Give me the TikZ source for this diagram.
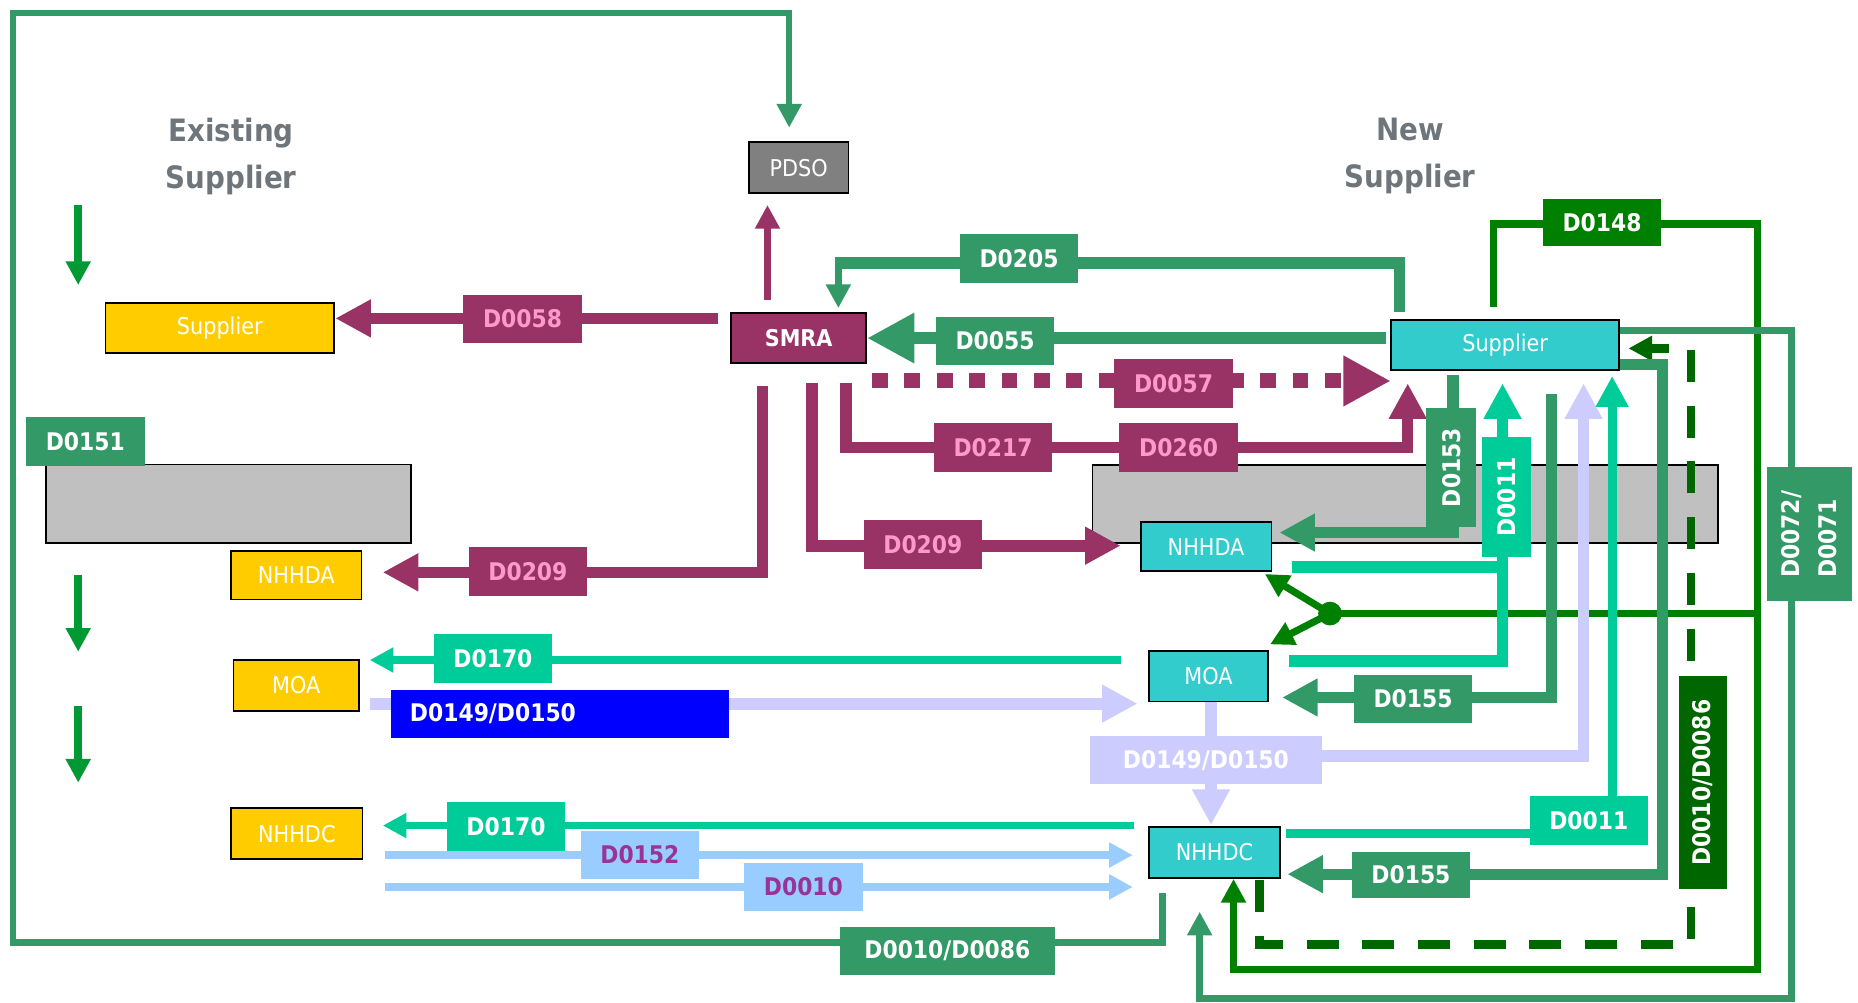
\documentclass[tikz,border=0pt]{standalone}
\usepackage{fontspec}
\setmainfont{DejaVu Sans Condensed}
\usetikzlibrary{arrows.meta}
\pgfdeclarelayer{back}
\pgfdeclarelayer{lines}
\pgfsetlayers{back,lines,main}
\definecolor{mag}{HTML}{993366}
\definecolor{pinktxt}{HTML}{FF99CC}
\definecolor{sg}{HTML}{339966}
\definecolor{tealc}{HTML}{00CC99}
\definecolor{cyn}{HTML}{33CCCC}
\definecolor{yel}{HTML}{FFCC00}
\definecolor{grb}{HTML}{C0C0C0}
\definecolor{lav}{HTML}{CCCCFF}
\definecolor{lbl}{HTML}{99CCFF}
\definecolor{purp}{HTML}{993399}
\definecolor{dg}{HTML}{008000}
\definecolor{ddg}{HTML}{006600}
\definecolor{lg}{HTML}{009933}
\definecolor{ttlc}{HTML}{6E767C}
\definecolor{pdsoc}{HTML}{808080}
\newcommand\myNodeFont{\fontsize{19.5}{23}\selectfont}
\newcommand\myLabFont{\fontsize{20.5}{24}\selectfont\bfseries}
\newcommand\myTitleFont{\fontsize{26}{39.4}\selectfont\bfseries}
\begin{document}
\begin{tikzpicture}[x=1pt,y=-1pt,
  box/.style={draw=black, line width=1.5pt, inner sep=0pt, text=white, font=\myNodeFont},
  ybox/.style={box, fill=yel},
  cbox/.style={box, fill=cyn},
  lab/.style={inner sep=0pt, font=\myLabFont, text=white, minimum width=100pt, minimum height=41pt},
  maglab/.style={lab, fill=mag, text=pinktxt},
  sglab/.style={lab, fill=sg},
  teallab/.style={lab, fill=tealc},
  lblab/.style={lab, fill=lbl, text=purp},
  ttl/.style={font=\myTitleFont, text=ttlc, align=center, inner sep=0pt},
  bar/.style={draw=black, line width=1.5pt, fill=grb, inner sep=0pt},
  H20/.style={-{Triangle[length=20pt,width=20pt]}},
  H26/.style={-{Triangle[length=26pt,width=26pt]}},
  H30/.style={-{Triangle[length=30pt,width=30pt]}},
  H40/.style={-{Triangle[length=40pt,width=40pt]}},
]
\useasboundingbox (0,0) rectangle (1568,846.4);
\begin{pgfonlayer}{back}
\fill[white] (0,0) rectangle (1568,846.4);
\node[bar, minimum width=308pt, minimum height=66pt] (barL) at (193,425) {};
\node[bar, minimum width=528pt, minimum height=65.5pt] (barR) at (1186,425.2) {};
\end{pgfonlayer}

% titles
\node[ttl, anchor=north] (tEx) at (195,99.5) {Existing\\Supplier};
\node[ttl, anchor=north] (tNew) at (1190,99.5) {New\\Supplier};

% main nodes
\node[ybox, minimum width=193pt, minimum height=42pt] (ysup) at (185.5,277) {Supplier};
\node[box, fill=pdsoc, minimum width=84pt, minimum height=43pt] (pdso) at (674,141.5) {PDSO};
\node[box, fill=mag, minimum width=114pt, minimum height=42.7pt, font=\myNodeFont\bfseries] (smra) at (674,285.3) {SMRA};
\node[cbox, minimum width=192.5pt, minimum height=42pt] (nsup) at (1270.2,291) {Supplier};
\node[ybox, minimum width=110pt, minimum height=41pt] (yNHHDA) at (250,485.5) {NHHDA};
\node[ybox, minimum width=106pt, minimum height=43pt] (yMOA) at (250,578.5) {MOA};
\node[ybox, minimum width=111pt, minimum height=43pt] (yNHHDC) at (250.5,703.5) {NHHDC};
\node[cbox, minimum width=110.4pt, minimum height=41.5pt] (cNHHDA) at (1017.8,461.3) {NHHDA};
\node[cbox, minimum width=100.4pt, minimum height=42.7pt] (cMOA) at (1019.8,570.7) {MOA};
\node[cbox, minimum width=110.3pt, minimum height=43.4pt] (cNHHDC) at (1024.9,719.3) {NHHDC};
\node[circle, fill=dg, inner sep=0pt, minimum size=20pt] (jn) at (1122.4,517.8) {};

% free ends
\coordinate (fr0) at (981,754);
\coordinate (frT) at (666,107.7);
\coordinate (smraUp) at (647.7,253);
\coordinate (pdsoIn) at (647.7,173);
\coordinate (d58s) at (606,268.7);
\coordinate (d58e) at (283,268.7);
\coordinate (d209as) at (643.5,326);
\coordinate (d209ae) at (323,483);
\coordinate (d209bs) at (685,323.5);
\coordinate (d209be) at (945.7,460.5);
\coordinate (d217s) at (714,323.5);
\coordinate (d217e) at (1188,323.5);
\coordinate (d57s) at (736,321.5);
\coordinate (d57e) at (1173.7,321.5);
\coordinate (d205s) at (1181,263);
\coordinate (d205e) at (707.5,260);
\coordinate (d148s) at (1260.5,258.8);
\coordinate (d148e) at (1041,741.7);
\coordinate (d72s) at (1367,278.8);
\coordinate (d72e) at (1012.4,769.4);
\coordinate (dds) at (1063,742.6);
\coordinate (dde) at (1374.2,294);
\coordinate (d153s) at (1226.4,316.5);
\coordinate (d153e) at (1079.7,449.4);
\coordinate (d11aA) at (1090.4,478.2);
\coordinate (d11aB) at (1087.7,557.7);
\coordinate (d11ae) at (1268,323.5);
\coordinate (d155as) at (1309.3,332.5);
\coordinate (d155ae) at (1082,588.6);
\coordinate (lavA) at (1022,592);
\coordinate (lavAe) at (1022,696.2);
\coordinate (lavB) at (1022,638);
\coordinate (lavBe) at (1336.4,323.5);
\coordinate (d11bs) at (1085,703.3);
\coordinate (d11be) at (1360.5,317.3);
\coordinate (d155bs) at (1360.6,307.6);
\coordinate (d155be) at (1086.4,737.7);
\coordinate (jnA) at (1067.4,484.4);
\coordinate (jnB) at (1071.8,543.8);
\coordinate (jnR) at (1483,517.8);
\coordinate (t170as) at (946,557);
\coordinate (t170ae) at (312,557);
\coordinate (t170bs) at (957,696.7);
\coordinate (t170be) at (323,696.7);
\coordinate (lmS) at (312,593.8);
\coordinate (lmE) at (960,593.8);
\coordinate (d152s) at (325,721.6);
\coordinate (d152e) at (956,721.6);
\coordinate (d10s) at (325,748.5);
\coordinate (d10e) at (956,748.5);
\coordinate (ga1) at (66,173);
\coordinate (gb1) at (66,240.5);
\coordinate (ga2) at (66,485);
\coordinate (gb2) at (66,550);
\coordinate (ga3) at (66,596);
\coordinate (gb3) at (66,660.5);

\begin{pgfonlayer}{lines}
% outer frame
\draw[sg, line width=5.5pt, H20] (fr0) -- (981,795.5) -- (11,795.5) -- (11,11) -- (666,11) -- (frT);
% SMRA -> PDSO
\draw[mag, line width=6.7pt, H20] (smraUp) -- (pdsoIn);
% D0058
\draw[mag, line width=9.4pt, H30] (d58s) -- (d58e);
% D0209 left
\draw[mag, line width=9.5pt, H30] (d209as) -- (643.5,483) -- (d209ae);
% D0209 right
\draw[mag, line width=10pt, H30] (d209bs) -- (685,460.5) -- (d209be);
% D0217 / D0260
\draw[mag, line width=9.5pt, H30] (d217s) -- (714,377.4) -- (1188,377.4) -- (d217e);
% D0057 dotted
\draw[mag, line width=12.7pt, dash pattern=on 13.3pt off 14pt, H40] (d57s) -- (d57e);
% D0055
\draw[sg, line width=10pt, H40] (1170,285.3) -- (smra.east);
% D0205
\draw[sg, line width=10pt] (d205s) -- (1181,222) -- (704.7,222);
\draw[sg, line width=5.7pt, H20] (707.5,219) -- (d205e);
% D0148
\draw[dg, line width=6pt, H20] (d148s) -- (1260.5,189) -- (1483,189) -- (1483,818) -- (1041,818) -- (d148e);
\draw[dg, line width=6pt] (jnR) -- (jn.center);
\draw[dg, line width=6pt, H20] (jn.center) -- (jnA);
\draw[dg, line width=6pt, H20] (jn.center) -- (jnB);
% D0072/D0071
\draw[sg, line width=6pt, H20] (d72s) -- (1512,278.8) -- (1512,843) -- (1012.4,843) -- (d72e);
% D0010/D0086 dashed
\draw[ddg, line width=7pt, dash pattern=on 27pt off 20pt, H20] (dds) -- (1063,797) -- (1427,797) -- (1427,294) -- (dde);
% D0153
\draw[sg, line width=10pt, H30] (d153s) -- (1226.4,449.4) -- (d153e);
% D0011 upper
\draw[tealc, line width=10pt] (d11aA) -- (1268,478.2);
\draw[tealc, line width=10pt, H30] (d11aB) -- (1268,557.7) -- (d11ae);
% D0155 upper
\draw[sg, line width=9.5pt, H30] (d155as) -- (1309.3,588.6) -- (d155ae);
% D0149/D0150 lavender
\draw[lav, line width=9.5pt, H30] (lavA) -- (lavAe);
\draw[lav, line width=9.5pt, H30] (lavB) -- (1336.4,638) -- (lavBe);
% D0011 lower
\draw[tealc, line width=7.5pt, H26] (d11bs) -- (1360.5,703.3) -- (d11be);
% D0155 lower
\draw[sg, line width=9.5pt, H30] (d155bs) -- (1402.7,307.6) -- (1402.7,737.7) -- (d155be);
% left side
\draw[tealc, line width=7pt, H20] (t170as) -- (t170ae);
\draw[tealc, line width=6pt, H20] (t170bs) -- (t170be);
\draw[lav, line width=10pt, H30] (lmS) -- (lmE);
\draw[lbl, line width=6.7pt, H20] (d152s) -- (d152e);
\draw[lbl, line width=6.7pt, H20] (d10s) -- (d10e);
% small green arrows
\draw[lg, line width=6.7pt, H20] (ga1) -- (gb1);
\draw[lg, line width=6.7pt, H20] (ga2) -- (gb2);
\draw[lg, line width=6.7pt, H20] (ga3) -- (gb3);
\end{pgfonlayer}

% labels
\node[maglab] (lD0058) at (441,269.3) {D0058};
\node[maglab] (lD0209a) at (445.5,482.5) {D0209};
\node[maglab] (lD0209b) at (778.8,459.5) {D0209};
\node[maglab] (lD0217) at (838,377.5) {D0217};
\node[maglab] (lD0260) at (994.7,377.5) {D0260};
\node[maglab] (lD0057) at (990.4,323.5) {D0057};
\node[sglab] (lD0055) at (839.7,287.6) {D0055};
\node[sglab] (lD0205) at (860,218) {D0205};
\node[lab, fill=dg, minimum height=40pt] (lD0148) at (1352,188) {D0148};
\node[sglab] (lD0151) at (72,372.5) {D0151};
\node[sglab, rotate=90, minimum width=100pt, minimum height=42pt] (lD0153) at (1224.7,394.6) {D0153};
\node[teallab, rotate=90, minimum width=100.7pt, minimum height=41.4pt] (lD0011a) at (1271.7,419.4) {D0011};
\node[sglab, rotate=90, minimum width=113pt, minimum height=72pt, align=left, font=\fontsize{20.5}{31}\selectfont\bfseries] (lD0072) at (1527,451) {D0072/\\D0071};
\node[sglab] (lD0155a) at (1192.5,590) {D0155};
\node[sglab, minimum height=39.3pt] (lD0155b) at (1190.7,738.5) {D0155};
\node[lab, fill=lav, minimum width=195.4pt] (lD0149b) at (1017.7,641.5) {D0149/D0150};
\node[teallab] (lD0011b) at (1340.8,692.2) {D0011};
\node[lab, fill=ddg, rotate=90, minimum width=180pt, minimum height=41pt] (lD0010v) at (1437,660.5) {D0010/D0086};
\node[teallab] (lD0170a) at (416,555.5) {D0170};
\node[teallab] (lD0170b) at (427,697.5) {D0170};
\node[lab, fill=blue, text width=253pt, inner xsep=16pt, align=left, minimum width=0pt] (lD0149a) at (472.5,602.5) {D0149/D0150};
\node[lblab] (lD0152) at (540,721.5) {D0152};
\node[lblab] (lD0010) at (678,748.5) {D0010};
\node[sglab, minimum width=181pt] (lD0010b) at (799.5,802.5) {D0010/D0086};
\end{tikzpicture}
\end{document}
